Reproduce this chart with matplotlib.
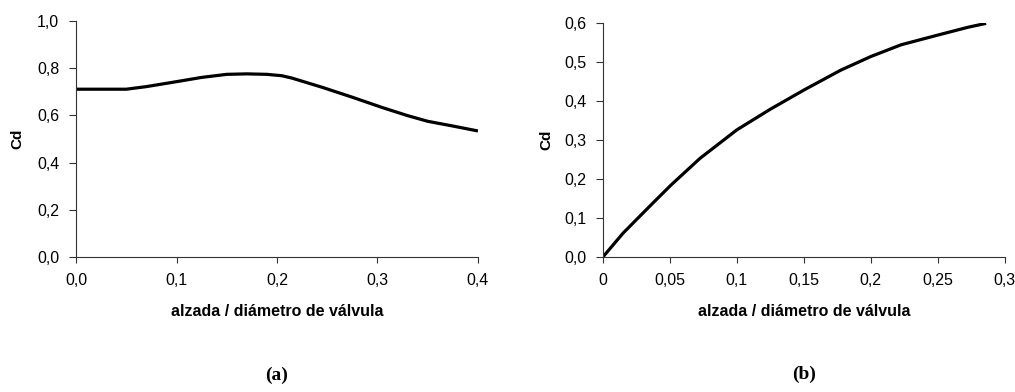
import numpy as np
from matplotlib import pyplot as plt

# (a) Cd vs alzada/diametro de valvula
xa = [0.0, 0.025, 0.05, 0.07, 0.1, 0.125, 0.15, 0.17, 0.19, 0.205, 0.215,
      0.245, 0.275, 0.305, 0.33, 0.35, 0.375, 0.4]
ya = [0.711, 0.711, 0.711, 0.722, 0.743, 0.761, 0.774, 0.776, 0.774, 0.768,
      0.758, 0.719, 0.677, 0.633, 0.599, 0.575, 0.555, 0.534]
xa_ticks = [0.0, 0.1, 0.2, 0.3, 0.4]
xa_labels = ['0,0', '0,1', '0,2', '0,3', '0,4']
ya_ticks = [0.0, 0.2, 0.4, 0.6, 0.8, 1.0]
ya_labels = ['0,0', '0,2', '0,4', '0,6', '0,8', '1,0']

# (b)
xb = [0.0, 0.015, 0.0375, 0.051, 0.0725, 0.1, 0.125, 0.15, 0.1775, 0.2,
      0.2225, 0.25, 0.2725, 0.286]
yb = [0.0, 0.061, 0.139, 0.185, 0.253, 0.326, 0.379, 0.428, 0.479, 0.514,
      0.544, 0.569, 0.589, 0.599]
xb_ticks = [0.0, 0.05, 0.1, 0.15, 0.2, 0.25, 0.3]
xb_labels = ['0', '0,05', '0,1', '0,15', '0,2', '0,25', '0,3']
yb_ticks = [0.0, 0.1, 0.2, 0.3, 0.4, 0.5, 0.6]
yb_labels = ['0,0', '0,1', '0,2', '0,3', '0,4', '0,5', '0,6']

sans = ['Liberation Sans Narrow', 'Liberation Sans', 'DejaVu Sans']

fig = plt.figure(figsize=(10.15, 3.92), dpi=100)
ax1 = fig.add_axes([0.0749, 0.3444, 0.396, 0.602])
ax2 = fig.add_axes([0.594, 0.3444, 0.396, 0.597])

panels = [
    (ax1, xa, ya, xa_ticks, xa_labels, ya_ticks, ya_labels, (0, 0.4), (0, 1.0), -0.129, '(a)'),
    (ax2, xb, yb, xb_ticks, xb_labels, yb_ticks, yb_labels, (0, 0.3), (0, 0.6), -0.124, '(b)'),
]

for ax, x, y, xt, xl, yt, yl, xlim, ylim, ylab_x, tag in panels:
    ax.plot(x, y, color='black', linewidth=2.3, solid_joinstyle='round',
            solid_capstyle='butt')
    ax.set_xlim(*xlim)
    ax.set_ylim(*ylim)
    ax.set_xticks(xt)
    ax.set_xticklabels(xl, family=sans, fontsize=11.5)
    ax.set_yticks(yt)
    ax.set_yticklabels(yl, family=sans, fontsize=11.5)
    ax.tick_params(axis='x', direction='out', length=4.5, width=0.8, pad=7, color='#333333')
    ax.tick_params(axis='y', direction='out', length=5, width=0.8, pad=7, color='#333333')
    for s in ['top', 'right']:
        ax.spines[s].set_visible(False)
    for s in ['left', 'bottom']:
        ax.spines[s].set_linewidth(0.8)
        ax.spines[s].set_color('#333333')
    ax.set_ylabel('Cd', family=sans, fontsize=11, fontweight='bold')
    ax.yaxis.set_label_coords(ylab_x, 0.5)
    ax.set_xlabel('alzada / diámetro de válvula', family=sans,
                  fontsize=11.5, fontweight='bold')
    ax.xaxis.set_label_coords(0.5, -0.2)
    ax.text(0.5, -0.50, tag, transform=ax.transAxes, ha='center', va='center',
            family=['Liberation Serif', 'DejaVu Serif'], fontsize=14, fontweight='bold')

fig.savefig('out.png', dpi=100)
